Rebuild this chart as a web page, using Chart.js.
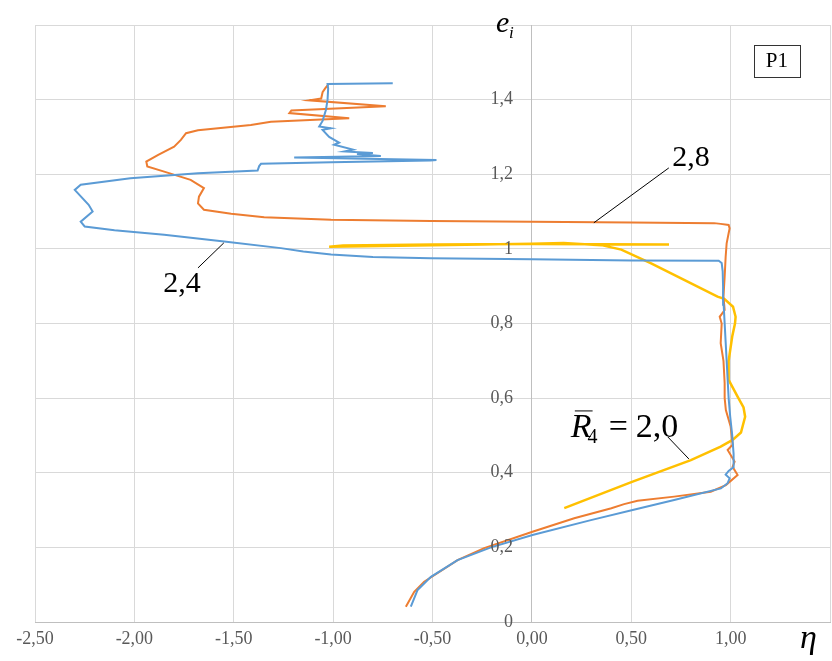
<!DOCTYPE html>
<html><head><meta charset="utf-8">
<script src="https://cdn.jsdelivr.net/npm/chart.js@4.4.1/dist/chart.umd.min.js"></script>
<style>html,body{margin:0;padding:0;background:#fff}canvas{display:block}</style>
</head><body>
<canvas id="c" width="832" height="661"></canvas>
<script>
// ---- data (eta on x, e_i on y) ----
const seriesNames = ['2,4', '2,8', '2,0'];
const blueX = [-0.609,-0.575,-0.508,-0.374,-0.206,0.003,0.297,0.507,0.716,0.951,0.985,0.995,0.975,0.99,1.015,1.015,1.008,0.998,0.99,0.985,0.98,0.975,0.97,0.965,0.962,0.96,0.955,0.94,0.5,0.0,-0.508,-0.80,-1.01,-1.15,-1.263,-1.548,-1.85,-2.10,-2.25,-2.27,-2.21,-2.23,-2.30,-2.27,-2.02,-1.68,-1.38,-1.372,-1.363,-1.01,-0.51,-0.48,-1.196,-0.76,-0.88,-0.80,-0.944,-0.90,-0.995,-0.97,-1.02,-1.053,-1.011,-1.07,-1.053,-1.036,-1.028,-1.025,-1.028,-0.70];
const blueY = [0.041,0.086,0.121,0.166,0.200,0.233,0.273,0.300,0.327,0.358,0.372,0.385,0.395,0.405,0.415,0.450,0.500,0.550,0.600,0.650,0.700,0.750,0.800,0.850,0.900,0.940,0.962,0.968,0.969,0.972,0.975,0.978,0.985,0.993,1.002,1.020,1.038,1.050,1.060,1.073,1.100,1.118,1.158,1.172,1.189,1.203,1.210,1.222,1.228,1.232,1.237,1.238,1.245,1.249,1.254,1.257,1.261,1.266,1.279,1.285,1.300,1.319,1.323,1.328,1.343,1.373,1.400,1.430,1.442,1.444];
const orangeX = [-0.634,-0.592,-0.542,-0.374,-0.24,0.003,0.213,0.40,0.464,0.532,0.716,0.90,0.976,1.035,1.01,1.02,0.985,1.01,1.0,0.976,0.97,0.97,0.964,0.95,0.955,0.945,0.97,0.964,0.97,0.975,0.98,0.99,0.995,0.99,0.95,0.917,0.5,0.0,-0.508,-1.01,-1.347,-1.513,-1.65,-1.68,-1.675,-1.65,-1.717,-1.85,-1.935,-1.94,-1.88,-1.80,-1.766,-1.74,-1.68,-1.414,-1.313,-0.919,-1.22,-1.21,-0.735,-1.12,-1.06,-1.053,-1.04,-1.025];
const orangeY = [0.041,0.081,0.108,0.166,0.198,0.242,0.278,0.305,0.316,0.325,0.336,0.349,0.367,0.394,0.416,0.430,0.461,0.475,0.524,0.568,0.600,0.640,0.700,0.747,0.800,0.818,0.836,0.872,0.926,0.979,1.015,1.042,1.055,1.064,1.067,1.069,1.071,1.073,1.075,1.078,1.085,1.094,1.105,1.122,1.140,1.163,1.185,1.207,1.221,1.234,1.252,1.274,1.292,1.310,1.318,1.332,1.341,1.350,1.364,1.371,1.382,1.398,1.403,1.420,1.430,1.440];
const yellowX = [0.163,0.507,0.80,0.95,1.01,1.052,1.073,1.065,1.035,0.99,0.99,1.008,1.022,1.025,1.012,0.968,0.934,0.766,0.6,0.45,0.35,0.16,0.0,-0.5,-1.02,-0.95,-0.5,0.0,0.69];
const yellowY = [0.305,0.376,0.434,0.470,0.488,0.508,0.550,0.575,0.604,0.649,0.700,0.765,0.800,0.818,0.845,0.866,0.872,0.917,0.961,0.998,1.010,1.016,1.014,1.010,1.006,1.009,1.012,1.013,1.012];
const xTickValues = [-2.5,-2.0,-1.5,-1.0,-0.5,0.0,0.5,1.0,1.5];
const yTickValues = [0,0.2,0.4,0.6,0.8,1.0,1.2,1.4,1.6];

const toPts = (xs, ys) => xs.map((v, i) => ({x: v, y: ys[i]}));
const SERIF = "'Liberation Serif', 'Times New Roman', serif";
const yLabel = v => { const r = Math.round(v * 10) / 10; return r === 1.6 ? '' : String(r).replace('.', ','); };

const annot = {
  id: 'annot',
  afterDraw(chart) {
    const {ctx, scales: {x, y}} = chart;
    const X = v => x.getPixelForValue(v), Y = v => y.getPixelForValue(v);
    ctx.save();
    // y tick labels, left of the axis crossing at eta = 0
    ctx.fillStyle = '#595959'; ctx.font = '18px ' + SERIF;
    ctx.textAlign = 'right'; ctx.textBaseline = 'middle';
    yTickValues.forEach(v => ctx.fillText(yLabel(v), X(0) - 19, Y(v)));
    ctx.strokeStyle = '#000'; ctx.lineWidth = 1;
    const seg = (a, b, c, d) => { ctx.beginPath(); ctx.moveTo(X(a), Y(b)); ctx.lineTo(X(c), Y(d)); ctx.stroke(); };
    seg(0.312, 1.070, 0.689, 1.217);   // 2,8 leader
    seg(-1.55, 1.016, -1.68, 0.949);   // 2,4 leader
    seg(0.684, 0.496, 0.79, 0.437);    // 2,0 leader
    ctx.fillStyle = '#000';
    ctx.textAlign = 'center'; ctx.textBaseline = 'middle';
    ctx.font = '30px ' + SERIF;
    ctx.fillText(seriesNames[1], X(0.80), Y(1.244));
    ctx.fillText(seriesNames[0], X(-1.761), Y(0.906));
    // R4 = 2,0
    ctx.textAlign = 'left'; ctx.textBaseline = 'alphabetic';
    const bx = X(0.196), by = Y(0.496);
    ctx.font = 'italic 34px ' + SERIF;
    ctx.fillText('R', bx, by);
    const rw = ctx.measureText('R').width;
    ctx.beginPath(); ctx.moveTo(bx + 4, by - 26); ctx.lineTo(bx + rw + 1, by - 26); ctx.stroke();
    ctx.font = '20px ' + SERIF;
    ctx.fillText('4', bx + rw - 4, by + 6);
    ctx.font = '34px ' + SERIF;
    ctx.fillText('=', bx + 38, by);
    ctx.fillText(seriesNames[2], bx + 65, by);
    // P1 box
    const l = X(1.117), t = Y(1.547), r = X(1.348), b = Y(1.461);
    ctx.fillStyle = '#fff'; ctx.fillRect(l, t, r - l, b - t);
    ctx.strokeStyle = '#333'; ctx.strokeRect(Math.round(l) + 0.5, Math.round(t) + 0.5, Math.round(r - l), Math.round(b - t));
    ctx.fillStyle = '#000'; ctx.textAlign = 'center'; ctx.textBaseline = 'middle';
    ctx.font = '21px ' + SERIF;
    ctx.fillText('P1', (l + r) / 2, (t + b) / 2 + 1);
    // axis titles
    ctx.font = 'italic 30px ' + SERIF;
    ctx.textAlign = 'left'; ctx.textBaseline = 'alphabetic';
    ctx.fillText('e', 496, 32);
    ctx.font = 'italic 17px ' + SERIF;
    ctx.fillText('i', 509, 38);
    ctx.font = 'italic 34px ' + SERIF;
    ctx.fillText('\u03B7', 800, 648);
    ctx.restore();
  }
};

new Chart(document.getElementById('c'), {
  type: 'scatter',
  data: {
    datasets: [
      {label: seriesNames[0], data: toPts(blueX, blueY), borderColor: '#5b9bd5', borderWidth: 2},
      {label: seriesNames[1], data: toPts(orangeX, orangeY), borderColor: '#ed7d31', borderWidth: 2},
      {label: seriesNames[2], data: toPts(yellowX, yellowY), borderColor: '#ffc000', borderWidth: 2.5}
    ].map(d => Object.assign(d, {showLine: true, pointRadius: 0, fill: false, tension: 0}))
  },
  options: {
    responsive: false, animation: false,
    layout: {padding: {left: 35, right: 2, top: 25, bottom: 0}},
    plugins: {legend: {display: false}, tooltip: {enabled: false}},
    scales: {
      x: {
        type: 'linear', position: 'bottom', min: -2.5, max: 1.5,
        afterBuildTicks: s => { s.ticks = xTickValues.map(v => ({value: v})); },
        afterFit: s => { s.height = 39; s.paddingLeft = 0; s.paddingRight = 0; },
        grid: {color: '#d9d9d9', drawTicks: false},
        border: {color: '#bfbfbf'},
        ticks: {
          padding: 6, color: '#595959', font: {family: SERIF, size: 18},
          maxRotation: 0, autoSkip: false,
          callback: v => v === 1.5 ? '' : v.toFixed(2).replace('.', ',')
        }
      },
      y: {
        type: 'linear', position: {x: 0}, min: 0, max: 1.6,
        afterBuildTicks: s => { s.ticks = yTickValues.map(v => ({value: v})); },
        afterFit: s => { s.paddingTop = 0; s.paddingBottom = 0; },
        grid: {color: '#d9d9d9', drawTicks: false},
        border: {color: '#bfbfbf'},
        ticks: {display: false}
      }
    }
  },
  plugins: [annot]
});
</script>
</body></html>
